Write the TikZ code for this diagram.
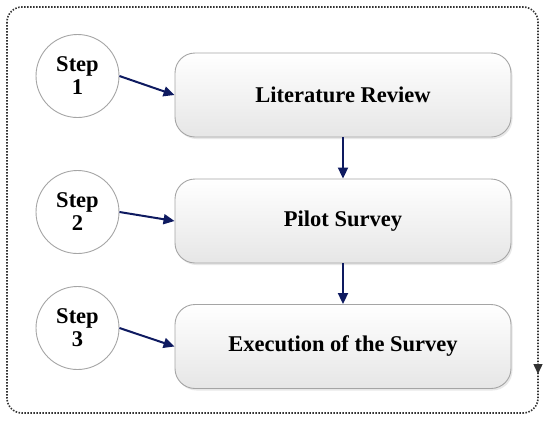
\documentclass[tikz,border=0pt]{standalone}
\usepackage{fontspec}
\setmainfont{Liberation Serif}
\usetikzlibrary{arrows.meta,shadows}
\definecolor{navy}{RGB}{14,26,96}
\definecolor{framegray}{RGB}{50,50,50}
\definecolor{boxborder}{RGB}{165,165,165}
\definecolor{boxbottom}{RGB}{230,230,230}
\tikzset{
  stepcircle/.style={circle, draw=boxborder, line width=0.9pt, fill=white,
    minimum size=83pt, inner sep=0pt, align=center,
    font=\fontsize{22.5}{23}\selectfont\bfseries},
  taskbox/.style={rectangle, rounded corners=20pt, draw=boxborder, line width=0.9pt,
    top color=white, bottom color=boxbottom, minimum width=336pt, minimum height=84pt,
    inner sep=0pt, font=\fontsize{22.5}{24}\selectfont\bfseries,
    drop shadow={shadow xshift=1.5pt, shadow yshift=-2pt, opacity=0.18}},
  navyarrow/.style={draw=navy, line width=2pt, -{Triangle[length=11pt,width=10pt]}},
  frameline/.style={draw=framegray, line width=1.6pt, dash pattern=on 1.5pt off 1.5pt}
}
\begin{document}
\begin{tikzpicture}[x=1pt,y=-1pt]
\useasboundingbox (0,0) rectangle (550,421);
% outer dotted frame
\draw[frameline, rounded corners=15pt] (7,7) rectangle (538,413);
\coordinate (fa) at (538,355);
\coordinate (fb) at (538,374);
\draw[draw=framegray, line width=1.4pt, -{Triangle[length=10pt,width=9pt]}, shorten <=16pt] (fa) -- (fb);
% boxes
\node[taskbox] (b1) at (343,95) {Literature Review};
\node[taskbox] (b2) at (343,221) {Pilot Survey};
\node[taskbox] (b3) at (343,346.5) {Execution of the Survey};
% circles
\node[stepcircle] (s1) at (77.5,76) {Step\\1};
\node[stepcircle] (s2) at (77.5,212) {Step\\2};
\node[stepcircle] (s3) at (77.5,328) {Step\\3};
% arrows
\draw[navyarrow] (s1.east) -- (b1.west);
\draw[navyarrow] (s2.east) -- (b2.west);
\draw[navyarrow] (s3.east) -- (b3.west);
\draw[navyarrow] (b1.south) -- (b2.north);
\draw[navyarrow] (b2.south) -- (b3.north);
\end{tikzpicture}
\end{document}
